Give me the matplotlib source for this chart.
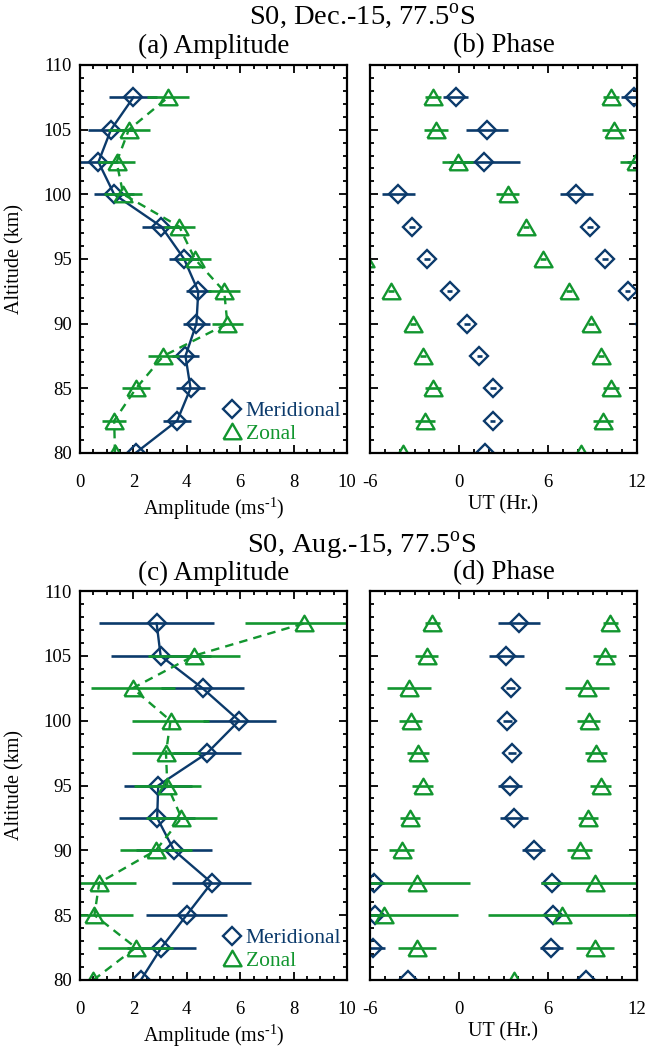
#!/usr/bin/env python3

import matplotlib

matplotlib.use("Agg")

import matplotlib.pyplot as plt
import numpy as np
from matplotlib.lines import Line2D
from matplotlib.ticker import MultipleLocator


ALTITUDE = [80, 82.5, 85, 87.5, 90, 92.5, 95, 97.5, 100, 102.5, 105, 107.5]

# December: amplitude (m/s) and phase (UT hours) with uncertainties
DEC_AMP_MER = [2.08, 3.64, 4.14, 3.95, 4.36, 4.43, 3.90, 3.05, 1.28, 0.69, 1.16, 2.00]
DEC_AMP_MER_ERR = [0.60, 0.52, 0.55, 0.50, 0.52, 0.47, 0.56, 0.71, 0.75, 0.75, 0.85, 0.90]
DEC_AMP_ZON = [1.31, 1.28, 2.10, 3.12, 5.52, 5.40, 4.30, 3.72, 1.62, 1.37, 1.83, 3.30]
DEC_AMP_ZON_ERR = [0.56, 0.46, 0.51, 0.59, 0.57, 0.59, 0.59, 0.59, 0.71, 0.70, 0.79, 0.79]
DEC_PHA_MER = [1.76, 2.26, 2.28, 1.38, 0.53, -0.64, -2.13, -3.19, -4.08, 1.70, 1.88, -0.22]
DEC_PHA_MER_ERR = [0.60, 0.20, 0.20, 0.20, 0.20, 0.20, 0.20, 0.20, 1.10, 2.40, 1.40, 0.84]
DEC_PHA_ZON = [-3.75, -2.29, -1.77, -2.44, -3.12, -4.56, 5.66, 4.51, 3.27, -0.08, -1.54, -1.77]
DEC_PHA_ZON_ERR = [0.77, 0.70, 0.55, 0.20, 0.20, 0.20, 0.20, 0.20, 0.80, 1.05, 0.80, 0.55]

# August
AUG_AMP_MER = [2.28, 3.05, 3.99, 4.93, 3.52, 2.89, 2.93, 4.76, 5.96, 4.59, 3.02, 2.87]
AUG_AMP_MER_ERR = [1.27, 1.30, 1.50, 1.47, 1.43, 1.43, 1.27, 1.28, 1.37, 1.55, 1.87, 2.14]
AUG_AMP_ZON = [0.50, 2.09, 0.54, 0.72, 2.84, 3.80, 3.27, 3.22, 3.39, 1.97, 4.26, 8.38]
AUG_AMP_ZON_ERR = [1.33, 1.41, 1.46, 1.36, 1.34, 1.32, 1.25, 1.29, 1.43, 1.57, 1.73, 2.20]
AUG_PHA_MER = [-3.42, 6.22, 6.37, 6.26, 5.03, 3.71, 3.46, 3.57, 3.26, 3.48, 3.19, 4.04]
AUG_PHA_MER_ERR = [1.00, 0.78, 0.60, 0.70, 0.78, 0.92, 0.82, 0.30, 0.30, 0.30, 1.17, 1.40]
AUG_PHA_ZON = [3.69, -2.82, -5.04, -2.86, -3.87, -3.31, -2.46, -2.75, -3.26, -3.38, -2.19, -1.81]
AUG_PHA_ZON_ERR = [4.55, 1.29, 5.00, 3.63, 0.86, 0.65, 0.70, 0.75, 0.78, 1.49, 0.75, 0.50]

PERIOD_HR = 12.0

BLUE = "#0b3a6b"
GREEN = "#12962f"

plt.rcParams["font.family"] = ["Liberation Serif", "DejaVu Serif"]
plt.rcParams["mathtext.fontset"] = "custom"
plt.rcParams["mathtext.rm"] = "Liberation Serif"
plt.rcParams["axes.unicode_minus"] = False

# wide, slightly flattened triangle like the IDL psym=5 symbol
TRIANGLE = [(-0.58, -0.5), (0.58, -0.5), (0.0, 0.5), (-0.58, -0.5)]

MER_STYLE = dict(marker="D", markersize=9.0, mfc="none", mec=BLUE, mew=1.7)
ZON_STYLE = dict(marker=TRIANGLE, markersize=13, mfc="none", mec=GREEN, mew=1.7)

W, H = 649, 1049


def px_axes(left, top, right, bottom):
    return [left / W, 1 - bottom / H, (right - left) / W, (bottom - top) / H]


def style_axes(ax, major_x, minor_x):
    ax.set_ylim(80, 110)
    ax.yaxis.set_major_locator(MultipleLocator(5))
    ax.yaxis.set_minor_locator(MultipleLocator(1))
    ax.xaxis.set_major_locator(MultipleLocator(major_x))
    ax.xaxis.set_minor_locator(MultipleLocator(minor_x))
    ax.tick_params(which="both", direction="in", top=True, right=True,
                   width=1.3, labelsize=13.5, colors="black")
    ax.tick_params(which="major", length=5.5)
    ax.tick_params(which="minor", length=3)
    ax.tick_params(axis="x", pad=15)
    ax.tick_params(axis="y", pad=6)
    for spine in ax.spines.values():
        spine.set_linewidth(1.6)


def plot_amplitude(ax, mer, mer_err, zon, zon_err):
    ax.errorbar(mer, ALTITUDE, xerr=mer_err, fmt="none", ecolor=BLUE,
                elinewidth=1.9, capsize=0)
    ax.plot(mer, ALTITUDE, color=BLUE, linewidth=1.7, **MER_STYLE)
    ax.errorbar(zon, ALTITUDE, xerr=zon_err, fmt="none", ecolor=GREEN,
                elinewidth=1.9, capsize=0)
    ax.plot(zon, ALTITUDE, color=GREEN, linewidth=1.7, dashes=(3.6, 2.6),
            **ZON_STYLE)
    ax.set_xlim(0, 10)
    style_axes(ax, 2, 0.5)
    ax.set_xticks([0, 2, 4, 6, 8, 10])
    ax.set_ylabel("Altitude (km)", fontsize=14.5, labelpad=14)
    ax.set_xlabel("Amplitude (ms$^{\\text{-}1}$)", fontsize=14.5, labelpad=3)

    handles = [
        Line2D([], [], linestyle="none", **MER_STYLE),
        Line2D([], [], linestyle="none", **ZON_STYLE),
    ]
    ax.legend(handles, ["Meridional", "Zonal"], loc="lower left",
              bbox_to_anchor=(0.5, 0.002), frameon=False, fontsize=15.5,
              handlelength=0.9, handletextpad=0.2, labelspacing=0.1,
              borderpad=0.2, borderaxespad=0.2, labelcolor=[BLUE, GREEN])


def plot_phase(ax, mer, mer_err, zon, zon_err):
    # the semidiurnal phase repeats every 12 h, so each point is shown
    # at every copy that falls in the -6..12 UT window
    for shift in (-PERIOD_HR, 0.0, PERIOD_HR):
        ax.errorbar(np.asarray(mer) + shift, ALTITUDE, xerr=mer_err,
                    fmt="none", ecolor=BLUE, elinewidth=1.9, capsize=0)
        ax.plot(np.asarray(mer) + shift, ALTITUDE, linestyle="none",
                **MER_STYLE)
    for shift in (-PERIOD_HR, 0.0, PERIOD_HR):
        ax.errorbar(np.asarray(zon) + shift, ALTITUDE, xerr=zon_err,
                    fmt="none", ecolor=GREEN, elinewidth=1.9, capsize=0)
        ax.plot(np.asarray(zon) + shift, ALTITUDE, linestyle="none",
                **ZON_STYLE)
    ax.set_xlim(-6, 12)
    style_axes(ax, 6, 1)
    ax.set_xticks([-6, 0, 6, 12])
    ax.tick_params(axis="y", labelleft=False)
    ax.set_xlabel("UT (Hr.)", fontsize=14.5, labelpad=3)


fig = plt.figure(figsize=(W / 100, H / 100), dpi=100)

ax_a = fig.add_axes(px_axes(80, 65, 347, 453))
ax_b = fig.add_axes(px_axes(370, 65, 637, 453))
ax_c = fig.add_axes(px_axes(80, 591, 347, 980))
ax_d = fig.add_axes(px_axes(370, 591, 637, 980))

plot_amplitude(ax_a, DEC_AMP_MER, DEC_AMP_MER_ERR, DEC_AMP_ZON, DEC_AMP_ZON_ERR)
plot_phase(ax_b, DEC_PHA_MER, DEC_PHA_MER_ERR, DEC_PHA_ZON, DEC_PHA_ZON_ERR)
plot_amplitude(ax_c, AUG_AMP_MER, AUG_AMP_MER_ERR, AUG_AMP_ZON, AUG_AMP_ZON_ERR)
plot_phase(ax_d, AUG_PHA_MER, AUG_PHA_MER_ERR, AUG_PHA_ZON, AUG_PHA_ZON_ERR)

title_kw = dict(ha="center", va="center")
fig.text(362 / W, 1 - 16 / H, "S0, Dec.-15, 77.5$^{\\rm o}$S", fontsize=20.5, **title_kw)
fig.text(213.5 / W, 1 - 46 / H, "(a) Amplitude", fontsize=19.5, **title_kw)
fig.text(503.5 / W, 1 - 46 / H, "(b) Phase", fontsize=19.5, **title_kw)
fig.text(362 / W, 1 - 546 / H, "S0, Aug.-15, 77.5$^{\\rm o}$S", fontsize=20.5, **title_kw)
fig.text(213.5 / W, 1 - 573 / H, "(c) Amplitude", fontsize=19.5, **title_kw)
fig.text(503.5 / W, 1 - 573 / H, "(d) Phase", fontsize=19.5, **title_kw)

fig.savefig("out.png", dpi=100)
